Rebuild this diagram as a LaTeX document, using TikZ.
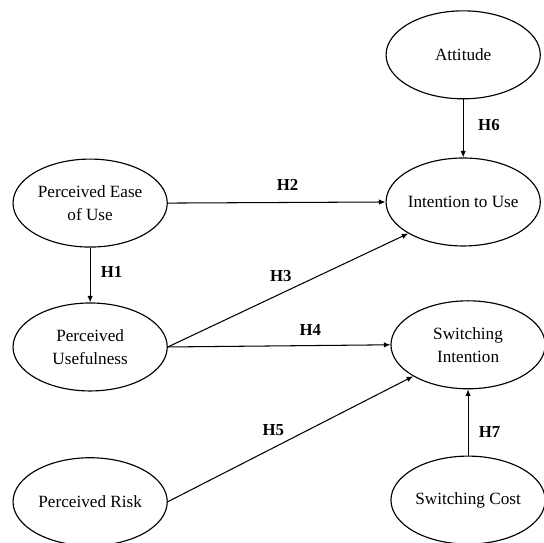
\documentclass[tikz,border=0pt]{standalone}
\usepackage{fontspec}
\setmainfont{Liberation Serif}
\usetikzlibrary{shapes.geometric,arrows.meta}

\begin{document}
\begin{tikzpicture}[
  construct/.style={ellipse, draw, line width=0.6pt, minimum width=2.84cm, minimum height=1.62cm,
    inner xsep=-4pt, inner ysep=0pt, align=center, font=\fontsize{9}{12.2}\selectfont},
  hyp/.style={line width=0.55pt, -{Latex[length=1.2mm,width=1mm]}},
  hlabel/.style={font=\fontsize{8.8}{10}\selectfont\bfseries}
]
  \useasboundingbox (0, 0) rectangle (10, 10);
  \node [construct] at (1.66, 6.26) (peou) {Perceived Ease\\of Use};
  \node [construct] at (1.66, 3.61) (pu) {Perceived\\Usefulness};
  \node [construct] at (1.66, 0.76) (pr) {Perceived Risk};
  \node [construct] at (8.53, 8.99) (att) {Attitude};
  \node [construct] at (8.53, 6.28) (itu) {Intention to Use};
  \node [construct] at (8.62, 3.65) (si) {Switching\\Intention};
  \node [construct] at (8.62, 0.79) (sc) {Switching Cost};

  \draw [hyp] (peou.south) -- (pu.north) node [hlabel, pos=0.45, right=0.7mm] {H1};
  \draw [hyp] (peou.east) -- (itu.west) node [hlabel, pos=0.55, above=1mm] {H2};
  \draw [hyp] (pu.east) -- (itu.south west) node [hlabel, pos=0.47, above=1mm] {H3};
  \draw [hyp] (pu.east) -- (si.west) node [hlabel, pos=0.64, above=0.5mm] {H4};
  \draw [hyp] (pr.east) -- (si.south west) node [hlabel, pos=0.43, above=1mm] {H5};
  \draw [hyp] (att.south) -- (itu.north) node [hlabel, pos=0.44, right=1.5mm] {H6};
  \draw [hyp] (sc.north) -- (si.south) node [hlabel, pos=0.36, right=0.7mm] {H7};
\end{tikzpicture}
\end{document}
